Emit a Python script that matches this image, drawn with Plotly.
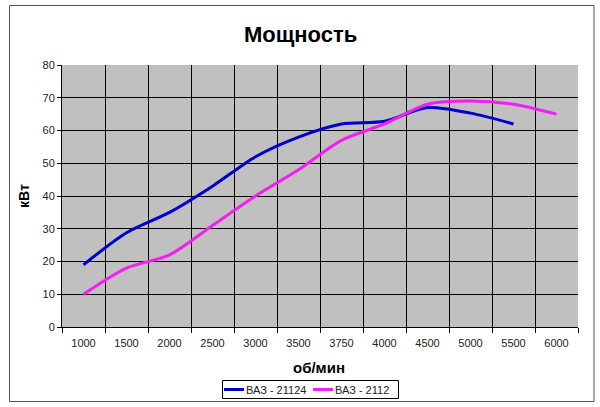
import plotly.graph_objects as go

rpm = ["1000", "1500", "2000", "2500", "3000", "3500", "3750", "4000", "4500", "5000", "5500", "6000"]
vaz_21124 = [19, 28.8, 35, 43, 52, 58, 62, 62.8, 67, 65.3, 62, None]
vaz_2112 = [10, 18, 22, 31, 40, 48, 57, 62, 68, 69, 68, 65]
series_names = ["ВАЗ - 21124", "ВАЗ - 2112"]
series_colors = ["#0000CC", "#F020F0"]

L, R, T, B = 62, 578, 65, 327
W, H = 600, 407


def px(x):
    return (x - L) / (R - L)


def py(y):
    return (B - y) / (B - T)


fig = go.Figure()
for vals, name, col in zip([vaz_21124, vaz_2112], series_names, series_colors):
    fig.add_trace(go.Scatter(x=rpm, y=vals, mode="lines", name=name,
                             line=dict(color=col, width=3, shape="spline", smoothing=0.8)))

font = "Liberation Sans, Arial, sans-serif"

annotations = [
    dict(text="<b>Мощность</b>", xref="paper", yref="paper", x=px(300), y=py(35),
         showarrow=False, font=dict(size=22, color="black", family=font), xanchor="center", yanchor="middle"),
    dict(text="<b>об/мин</b>", xref="paper", yref="paper", x=px(319), y=py(367),
         showarrow=False, font=dict(size=15, color="black", family=font), xanchor="center", yanchor="middle"),
    dict(text="<b>кВт</b>", xref="paper", yref="paper", x=px(24), y=py(196), textangle=-90,
         showarrow=False, font=dict(size=14, color="black", family=font), xanchor="center", yanchor="middle"),
]
shapes = [
    dict(type="rect", xref="paper", yref="paper", x0=px(9.5), x1=px(594), y0=py(5.5), y1=py(401.5),
         line=dict(color="#555555", width=1), fillcolor="rgba(0,0,0,0)", layer="below"),
    dict(type="rect", xref="paper", yref="paper", x0=px(222.5), x1=px(398.5), y0=py(380.5), y1=py(398.5),
         line=dict(color="black", width=1), fillcolor="white", layer="above"),
]
leg_x = [224, 313]
for lx, name, col in zip(leg_x, series_names, series_colors):
    shapes.append(dict(type="line", xref="paper", yref="paper", x0=px(lx), x1=px(lx + 20),
                       y0=py(389.5), y1=py(389.5), line=dict(color=col, width=3)))
    annotations.append(dict(text=name, xref="paper", yref="paper", x=px(lx + 20), y=py(389.5),
                            showarrow=False, xanchor="left", yanchor="middle",
                            font=dict(size=11, color="#222222", family=font)))

fig.update_layout(
    width=W, height=H,
    margin=dict(l=L, r=W - R, t=T, b=H - B, autoexpand=False),
    paper_bgcolor="white",
    plot_bgcolor="#C0C0C0",
    font=dict(family=font, size=11, color="#222222"),
    showlegend=False,
    xaxis=dict(type="category", range=[-0.5, 11.5], tickson="boundaries", ticks="outside",
               ticklen=5, tickcolor="black", showgrid=True, gridcolor="black", gridwidth=1,
               showline=True, linecolor="black", linewidth=1, fixedrange=True,
               ticklabelstandoff=6,
               tickfont=dict(size=11, color="#222222")),
    yaxis=dict(range=[0, 80], dtick=10, ticks="outside", ticklen=4, tickcolor="black",
               showgrid=True, gridcolor="black", gridwidth=1, zeroline=False,
               showline=True, linecolor="black", linewidth=1,
               tickfont=dict(size=11, color="#222222")),
    annotations=annotations,
    shapes=shapes,
)

fig.write_html("out.html")
